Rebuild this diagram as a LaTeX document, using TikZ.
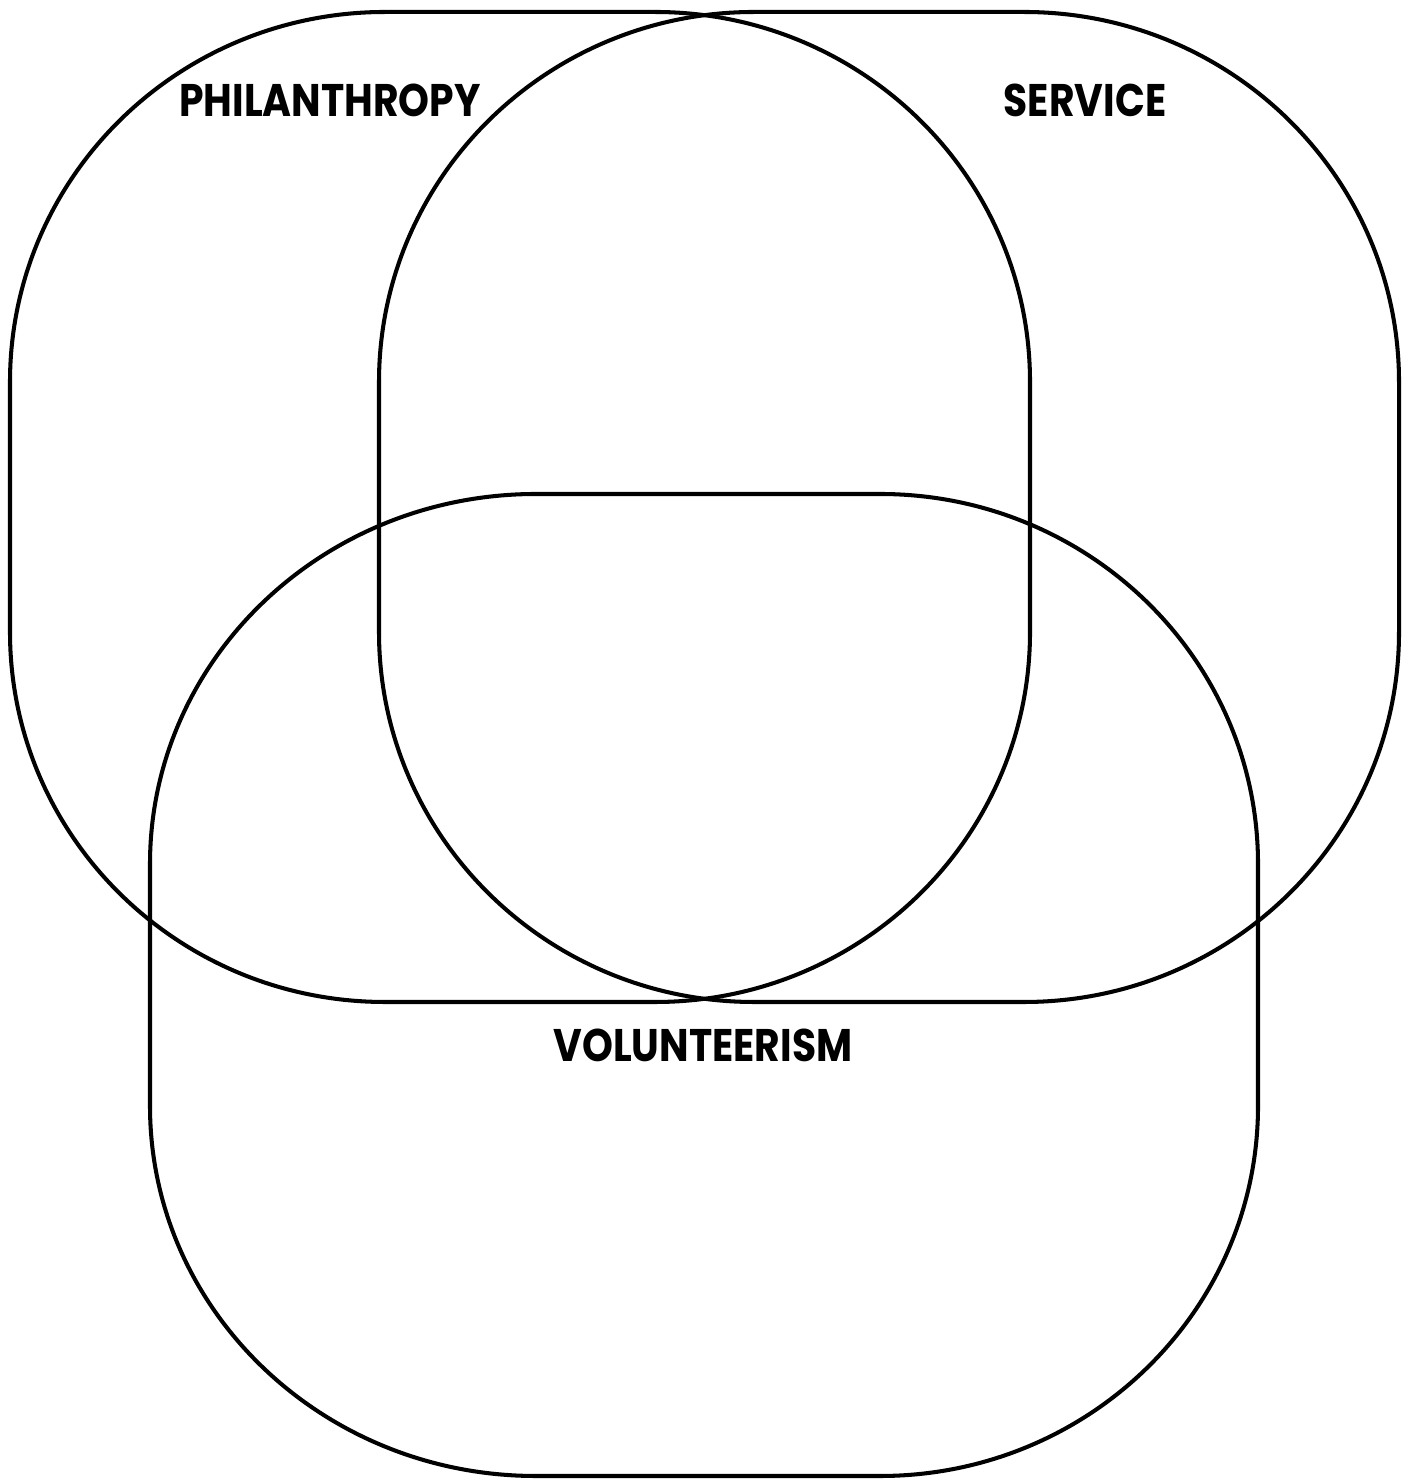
\documentclass[tikz,border=0pt]{standalone}
\usepackage{fontspec}
\newfontfamily\labelfont[FakeStretch=0.86]{Poppins}
\usepackage{tikz}
\usetikzlibrary{positioning}

\begin{document}
\begin{tikzpicture}[
        ring/.style={draw=black, line width=1.15pt},
        setlabel/.style={font=\labelfont\bfseries\fontsize{13pt}{15pt}\selectfont, inner sep=0pt, anchor=center}
        ]

        \useasboundingbox (0,0) rectangle (14.09,14.84);

        \draw [ring] (3.85,14.72) -- (6.55,14.72) arc[start angle=90, end angle=0, x radius=3.75, y radius=3.7]
            -- (10.30,8.52) arc[start angle=0, end angle=-90, x radius=3.75, y radius=3.7]
            -- (3.85,4.82) arc[start angle=270, end angle=180, x radius=3.75, y radius=3.7]
            -- (0.10,11.02) arc[start angle=180, end angle=90, x radius=3.75, y radius=3.7] -- cycle;

        \draw [ring] (7.54,14.72) -- (10.24,14.72) arc[start angle=90, end angle=0, x radius=3.75, y radius=3.7]
            -- (13.99,8.52) arc[start angle=0, end angle=-90, x radius=3.75, y radius=3.7]
            -- (7.54,4.82) arc[start angle=270, end angle=180, x radius=3.75, y radius=3.7]
            -- (3.79,11.02) arc[start angle=180, end angle=90, x radius=3.75, y radius=3.7] -- cycle;

        \draw [ring] (5.36,9.90) -- (8.80,9.90) arc[start angle=90, end angle=0, x radius=3.78, y radius=3.7]
            -- (12.58,3.78) arc[start angle=0, end angle=-90, x radius=3.78, y radius=3.7]
            -- (5.36,0.08) arc[start angle=270, end angle=180, x radius=3.86, y radius=3.7]
            -- (1.50,6.20) arc[start angle=180, end angle=90, x radius=3.86, y radius=3.7] -- cycle;

        \node (phil) [setlabel] at (3.30,13.84) {PHILANTHROPY};
        \node (serv) [setlabel] at (10.85,13.84) {SERVICE};
        \node (volu) [setlabel] at (7.03,4.39) {VOLUNTEERISM};

    \end{tikzpicture}
\end{document}
